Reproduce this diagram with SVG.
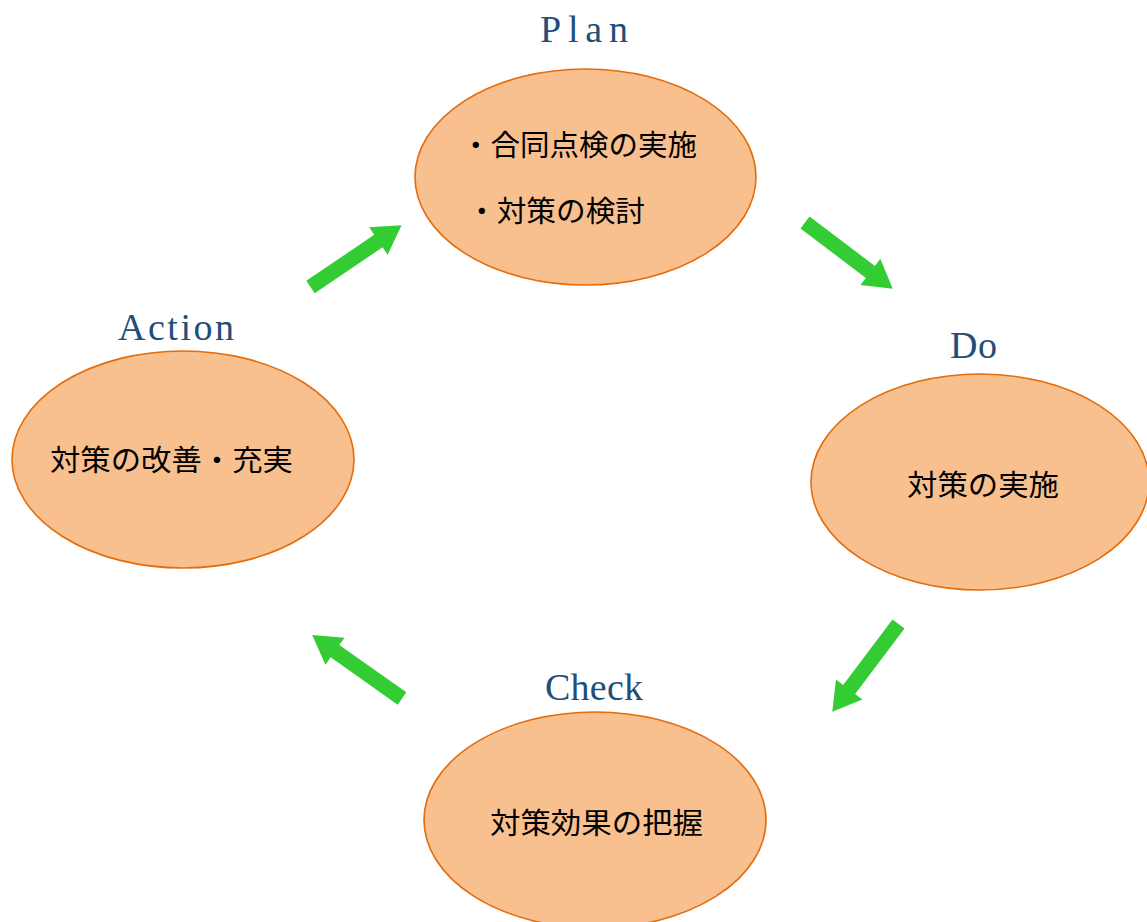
<svg xmlns="http://www.w3.org/2000/svg" width="1147" height="922" viewBox="0 0 1147 922">
<style>
.node ellipse{fill:#F8BF8F;stroke:#E46C0A;stroke-width:1.6}
.lbl{font-family:"Liberation Serif",serif;font-size:38px;fill:#1F4E79}
.txt{font-family:"Noto Sans CJK JP",sans-serif;font-size:29px;fill:#000}
.arr{fill:#33CC33}
</style>
<defs>
<path id="blk" d="M0,-7.5 L82,-7.5 L82,-16.5 L110,0 L82,16.5 L82,7.5 L0,7.5 Z"/>
</defs>
<rect width="1147" height="922" fill="#fff"/>
<g id="connectors" class="arr">
<use href="#blk" transform="translate(310.5,287) rotate(-34.1)"/>
<use href="#blk" transform="translate(805,222.5) rotate(37.1)"/>
<use href="#blk" transform="translate(898.5,624) rotate(127)"/>
<use href="#blk" transform="translate(402,698.5) rotate(-144.8)"/>
</g>
<g id="plan" class="node">
<text class="lbl" x="540" y="42" textLength="88" lengthAdjust="spacing">Plan</text>
<ellipse cx="585.5" cy="177" rx="170.5" ry="108"/>
<text class="txt" x="461" y="156" textLength="236" lengthAdjust="spacingAndGlyphs">・合同点検の実施</text>
<text class="txt" x="467" y="222" textLength="178" lengthAdjust="spacingAndGlyphs">・対策の検討</text>
</g>
<g id="do" class="node">
<text class="lbl" x="950" y="358" textLength="47" lengthAdjust="spacing">Do</text>
<ellipse cx="980" cy="482" rx="169" ry="108"/>
<text class="txt" x="907" y="496" textLength="152" lengthAdjust="spacingAndGlyphs">対策の実施</text>
</g>
<g id="check" class="node">
<text class="lbl" x="545" y="700" textLength="98" lengthAdjust="spacing">Check</text>
<ellipse cx="595" cy="820" rx="171" ry="108"/>
<text class="txt" x="490" y="834" textLength="213" lengthAdjust="spacingAndGlyphs">対策効果の把握</text>
</g>
<g id="action" class="node">
<text class="lbl" x="118" y="340" textLength="116" lengthAdjust="spacing">Action</text>
<ellipse cx="183" cy="459.5" rx="171" ry="108.5"/>
<text class="txt" x="50" y="471" textLength="243" lengthAdjust="spacingAndGlyphs">対策の改善・充実</text>
</g>
</svg>
